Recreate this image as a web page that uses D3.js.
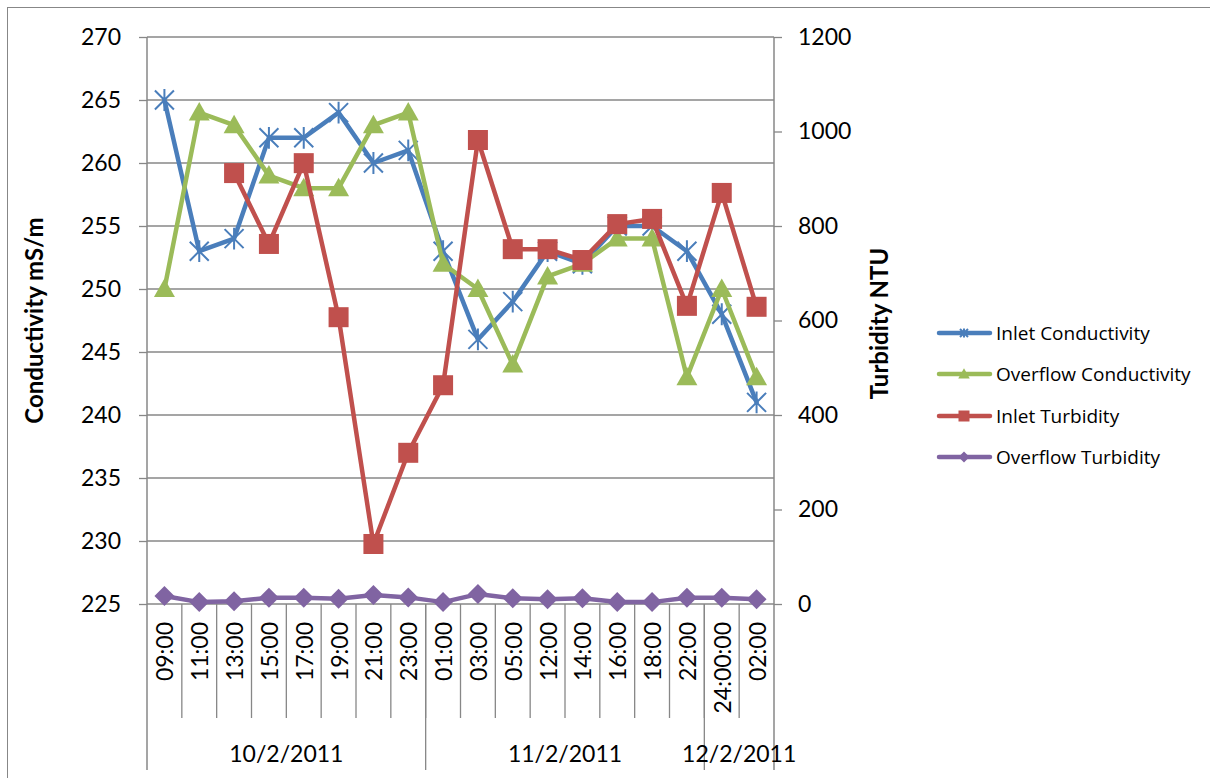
<!DOCTYPE html>
<html>
<head>
<meta charset="utf-8">
<script src="https://cdn.jsdelivr.net/npm/d3@7"></script>
<style>
  html, body { margin: 0; padding: 0; background: #fff; }
  svg { display: block; font-family: Lato, "Open Sans", sans-serif; }
  text { fill: #000; }
</style>
</head>
<body>
<svg id="chart" width="1210" height="778"></svg>
<script>
// Sampling times (hourly readings over three days)
const categories = ["09:00","11:00","13:00","15:00","17:00","19:00","21:00","23:00",
                    "01:00","03:00","05:00","12:00","14:00","16:00","18:00","22:00",
                    "24:00:00","02:00"];
const dateLabels = ["10/2/2011", "11/2/2011", "12/2/2011"];
const dateSpans  = [8, 8, 2];

// Conductivity (mS/m), left axis
const inletConductivity    = [265,253,254,262,262,264,260,261,253,246,249,253,252,255,255,253,248,241];
const overflowConductivity = [250,264,263,259,258,258,263,264,252,250,244,251,252,254,254,243,250,243];
// Turbidity (NTU), right axis
const inletTurbidity    = [null,null,912,762,933,607,127,320,463,982,751,751,728,804,815,631,870,629];
const overflowTurbidity = [17,4,6,13,13,11,19,14,4,21,12,10,12,4,4,13,13,10];

const leftTicks  = [225,230,235,240,245,250,255,260,265,270];
const rightTicks = [0,200,400,600,800,1000,1200];

const seriesNames = ["Inlet Conductivity","Overflow Conductivity","Inlet Turbidity","Overflow Turbidity"];
const seriesColors = ["#4A7EBB","#9BBB59","#C0504D","#8064A2"];

const svg = d3.select("#chart");
const plot = {left: 147, right: 774, top: 37, bottom: 604};
const gridColor = "#878787";

// outer chart frame
svg.append("rect").attr("x", 7.5).attr("y", 7.5).attr("width", 1220).attr("height", 800)
  .attr("fill", "none").attr("stroke", gridColor).attr("stroke-width", 1);

const x = d3.scaleBand().domain(d3.range(categories.length)).range([plot.left, plot.right]).padding(0);
const cx = i => x(i) + x.bandwidth() / 2;
const yL = d3.scaleLinear().domain([225, 270]).range([plot.bottom, plot.top]);
const yR = d3.scaleLinear().domain([0, 1200]).range([plot.bottom, plot.top]);

// horizontal gridlines
svg.append("g").selectAll("line").data(leftTicks).join("line")
  .attr("x1", plot.left).attr("x2", plot.right)
  .attr("y1", d => yL(d)).attr("y2", d => yL(d))
  .attr("stroke", gridColor).attr("stroke-width", 1.3);

// left axis
const gL = svg.append("g").attr("transform", `translate(${plot.left},0)`)
  .call(d3.axisLeft(yL).tickValues(leftTicks).tickFormat(d3.format("d")).tickSize(8).tickPadding(18));
gL.select(".domain").remove();
gL.selectAll("line").attr("stroke", gridColor).attr("stroke-width", 1.3);
gL.selectAll("text").style("font-family", "Lato").attr("font-size", 23).attr("fill", "#000");
svg.append("line").attr("x1", plot.left).attr("x2", plot.left).attr("y1", plot.top).attr("y2", 770)
  .attr("stroke", gridColor).attr("stroke-width", 1.5);

// right axis
const gR = svg.append("g").attr("transform", `translate(${plot.right},0)`)
  .call(d3.axisRight(yR).tickValues(rightTicks).tickFormat(d3.format("d")).tickSize(8).tickPadding(16));
gR.select(".domain").remove();
gR.selectAll("line").attr("stroke", gridColor).attr("stroke-width", 1.3);
gR.selectAll("text").style("font-family", "Lato").attr("font-size", 23).attr("fill", "#000");
svg.append("line").attr("x1", plot.right).attr("x2", plot.right).attr("y1", plot.top).attr("y2", 770)
  .attr("stroke", gridColor).attr("stroke-width", 1.5);

// category boundary ticks
svg.append("g").selectAll("line").data(d3.range(1, categories.length)).join("line")
  .attr("x1", i => x(i)).attr("x2", i => x(i))
  .attr("y1", plot.bottom).attr("y2", 718)
  .attr("stroke", gridColor).attr("stroke-width", 1.3);

// date group separators and labels
let acc = 0;
dateSpans.forEach((n, k) => {
  const start = acc, end = acc + n;
  const xs = x(start), xe = end < categories.length ? x(end) : plot.right;
  if (end < categories.length) {
    svg.append("line").attr("x1", xe).attr("x2", xe).attr("y1", plot.bottom).attr("y2", 770)
      .attr("stroke", gridColor).attr("stroke-width", 1.3);
  }
  svg.append("text").attr("x", (xs + xe) / 2).attr("y", 753)
    .attr("text-anchor", "middle").attr("dominant-baseline", "central")
    .attr("font-size", 23).text(dateLabels[k]);
  acc = end;
});

// category labels (rotated)
svg.append("g").selectAll("text").data(categories).join("text")
  .attr("transform", (d, i) => `translate(${cx(i)},622) rotate(-90)`)
  .attr("text-anchor", "end").attr("dominant-baseline", "central")
  .attr("font-size", 23).text(d => d);

// axis titles
svg.append("text").attr("transform", `translate(33,${(plot.top + plot.bottom) / 2}) rotate(-90)`)
  .attr("text-anchor", "middle").attr("dominant-baseline", "central")
  .attr("font-size", 24).attr("font-weight", "bold").text("Conductivity mS/m");
svg.append("text").attr("transform", `translate(878,${(plot.top + plot.bottom) / 2 + 3}) rotate(-90)`)
  .attr("text-anchor", "middle").attr("dominant-baseline", "central")
  .attr("font-size", 24).attr("font-weight", "bold").text("Turbidity NTU");

// marker shapes
function marker(g, type, color, s) {
  if (type === "star") {
    g.append("path")
      .attr("d", `M${-s},${-s}L${s},${s}M${-s},${s}L${s},${-s}M0,${-s * 1.15}L0,${s * 1.15}`)
      .attr("stroke", color).attr("stroke-width", 2).attr("fill", "none");
  } else if (type === "triangle") {
    g.append("path")
      .attr("d", `M0,${-s * 1.05}L${s * 1.05},${s * 0.8}L${-s * 1.05},${s * 0.8}Z`)
      .attr("fill", color);
  } else if (type === "square") {
    g.append("rect").attr("x", -s).attr("y", -s).attr("width", 2 * s).attr("height", 2 * s)
      .attr("fill", color);
  } else if (type === "diamond") {
    g.append("path").attr("d", `M0,${-s}L${s},0L0,${s}L${-s},0Z`).attr("fill", color);
  }
}

const seriesDefs = [
  {values: inletConductivity,    y: yL, type: "star",     size: 9.5},
  {values: overflowConductivity, y: yL, type: "triangle", size: 10},
  {values: inletTurbidity,       y: yR, type: "square",   size: 10},
  {values: overflowTurbidity,    y: yR, type: "diamond",  size: 10}
];

seriesDefs.forEach((s, k) => {
  const color = seriesColors[k];
  const line = d3.line().defined(d => d != null).x((d, i) => cx(i)).y(d => s.y(d));
  const g = svg.append("g");
  g.append("path").datum(s.values).attr("d", line)
    .attr("fill", "none").attr("stroke", color).attr("stroke-width", 4.5)
    .attr("stroke-linejoin", "round").attr("stroke-linecap", "round");
  s.values.forEach((v, i) => {
    if (v == null) return;
    marker(g.append("g").attr("transform", `translate(${cx(i)},${s.y(v)})`), s.type, color, s.size);
  });
});

// legend
const legend = svg.append("g");
const legendY = [333, 374, 416, 457];
seriesNames.forEach((name, k) => {
  const g = legend.append("g").attr("transform", `translate(0,${legendY[k]})`);
  g.append("line").attr("x1", 939).attr("x2", 990).attr("y1", 0).attr("y2", 0)
    .attr("stroke", seriesColors[k]).attr("stroke-width", 4.5).attr("stroke-linecap", "round");
  marker(g.append("g").attr("transform", "translate(964,0)"), seriesDefs[k].type, seriesColors[k],
         seriesDefs[k].type === "star" ? 4 : 5.5);
  g.append("text").attr("x", 996).attr("y", 0).attr("dominant-baseline", "central")
    .style("font-family", "'Open Sans', sans-serif").attr("font-size", 19).text(name);
});
</script>
</body>
</html>
